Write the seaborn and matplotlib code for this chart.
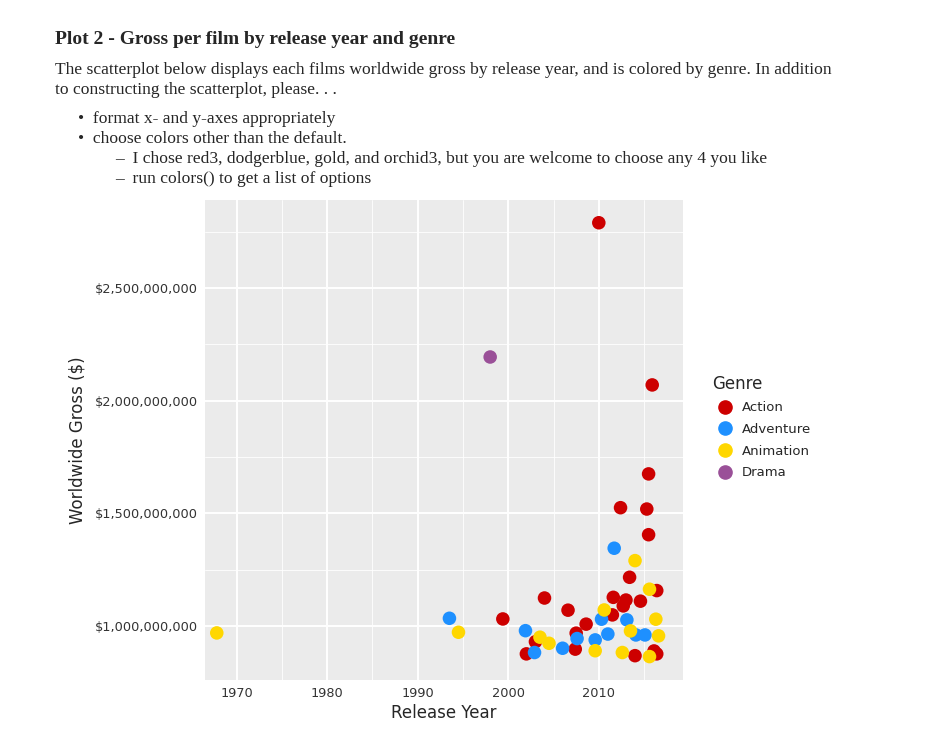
import matplotlib.pyplot as plt
import matplotlib.ticker as mticker
import seaborn as sns
import pandas as pd

sns.set_style('white')
plt.rcParams['font.family'] = ['DejaVu Sans']

# data
action_year = [2010.0, 2015.9, 2015.5, 2012.4, 2015.3, 2015.5, 2013.4, 2016.4, 2011.6, 2014.6, 2004.0,
               2013.0, 2012.7, 2006.6, 1999.4, 2011.5, 2008.6, 2007.5, 2003.0, 2007.4, 2002.0, 2014.0,
               2016.1, 2016.4]
action_gross = [2.79e9, 2.07e9, 1.675e9, 1.525e9, 1.519e9, 1.405e9, 1.216e9, 1.157e9, 1.127e9, 1.11e9, 1.124e9,
                1.115e9, 1.089e9, 1.07e9, 1.031e9, 1.049e9, 1.008e9, 0.968e9, 0.93e9, 0.897e9, 0.876e9, 0.868e9,
                0.889e9, 0.876e9]
adv_year = [2011.7, 1993.5, 2010.3, 2013.1, 2001.9, 2011.0, 2014.1, 2015.1, 2007.6, 2009.6, 2006.0, 2002.9]
adv_gross = [1.345e9, 1.034e9, 1.03e9, 1.027e9, 0.979e9, 0.964e9, 0.96e9, 0.96e9, 0.944e9, 0.938e9, 0.901e9, 0.882e9]
anim_year = [1967.8, 1994.5, 2014.0, 2015.6, 2010.6, 2016.3, 2013.5, 2016.6, 2003.5, 2004.5, 2009.6, 2012.6, 2015.6]
anim_gross = [0.969e9, 0.972e9, 1.29e9, 1.163e9, 1.071e9, 1.03e9, 0.978e9, 0.956e9, 0.95e9, 0.923e9, 0.89e9, 0.882e9,
              0.864e9]
drama_year = [1998.0]
drama_gross = [2.194e9]

genres = ['Action', 'Adventure', 'Animation', 'Drama']
colors = ['#CD0000', '#1E90FF', '#FFD700', '#9A5098']

df = pd.concat([
    pd.DataFrame({'Year': action_year, 'Gross': action_gross, 'Genre': 'Action'}),
    pd.DataFrame({'Year': adv_year, 'Gross': adv_gross, 'Genre': 'Adventure'}),
    pd.DataFrame({'Year': anim_year, 'Gross': anim_gross, 'Genre': 'Animation'}),
    pd.DataFrame({'Year': drama_year, 'Gross': drama_gross, 'Genre': 'Drama'}),
])

fig = plt.figure(figsize=(9.32, 7.49), dpi=100)

# document text above the plot
serif = ['Liberation Serif', 'DejaVu Serif']
fs = 12.6
fig.text(55/932, 1-40/749, 'Plot 2 - Gross per film by release year and genre', family=serif,
         fontsize=14, weight='bold', va='center')
fig.text(55/932, 1-70/749, 'The scatterplot below displays each films worldwide gross by release year, and is colored by genre. In addition',
         family=serif, fontsize=fs, va='center')
fig.text(55/932, 1-90/749, 'to constructing the scatterplot, please. . .', family=serif, fontsize=fs, va='center')
fig.text(78/932, 1-119/749, '\u2022  format x- and y-axes appropriately', family=serif, fontsize=fs, va='center')
fig.text(78/932, 1-139/749, '\u2022  choose colors other than the default.', family=serif, fontsize=fs, va='center')
fig.text(115/932, 1-159/749, '\u2013  I chose red3, dodgerblue, gold, and orchid3, but you are welcome to choose any 4 you like',
         family=serif, fontsize=fs, va='center')
fig.text(115/932, 1-179/749, '\u2013  run colors() to get a list of options', family=serif, fontsize=fs, va='center')

ax = fig.add_axes([205/932, 1-680/749, 478/932, 480/749])
ax.set_facecolor('#EBEBEB')
ax.set_axisbelow(True)
sns.scatterplot(data=df, x='Year', y='Gross', hue='Genre', hue_order=genres, palette=colors,
                s=95, edgecolor='none', ax=ax, legend=False, zorder=3)

ax.set_xlim(1966.5, 2019.3)
ax.set_ylim(0.76e9, 2.891e9)
ax.set_xticks([1970, 1980, 1990, 2000, 2010])
ax.set_xticks([1975, 1985, 1995, 2005, 2015], minor=True)
ax.set_yticks([1e9, 1.5e9, 2e9, 2.5e9])
ax.set_yticks([1.25e9, 1.75e9, 2.25e9, 2.75e9], minor=True)
ax.yaxis.set_major_formatter(mticker.FuncFormatter(lambda v, p: '${:,.0f}'.format(v)))
ax.grid(which='major', color='white', linewidth=1.4)
ax.grid(which='minor', color='white', linewidth=0.6)
for sp in ax.spines.values():
    sp.set_visible(False)
ax.tick_params(which='major', length=3, color='#333333', labelsize=9.3, labelcolor='#333333', pad=2)
ax.tick_params(which='minor', length=0)
ax.set_xlabel('Release Year', fontsize=12, labelpad=3)
ax.set_ylabel('Worldwide Gross ($)', fontsize=12, labelpad=6)

# legend
handles = [plt.Line2D([], [], marker='o', linestyle='', markersize=9.5, color=c) for c in colors]
leg = fig.legend(handles, genres, title='Genre', loc='upper left', bbox_to_anchor=(700/932, 1-363/749),
                 frameon=False, fontsize=9.5, title_fontsize=12, labelspacing=0.65, handletextpad=0.3)
leg._legend_box.align = 'left'

fig.savefig('out.png', dpi=100)
